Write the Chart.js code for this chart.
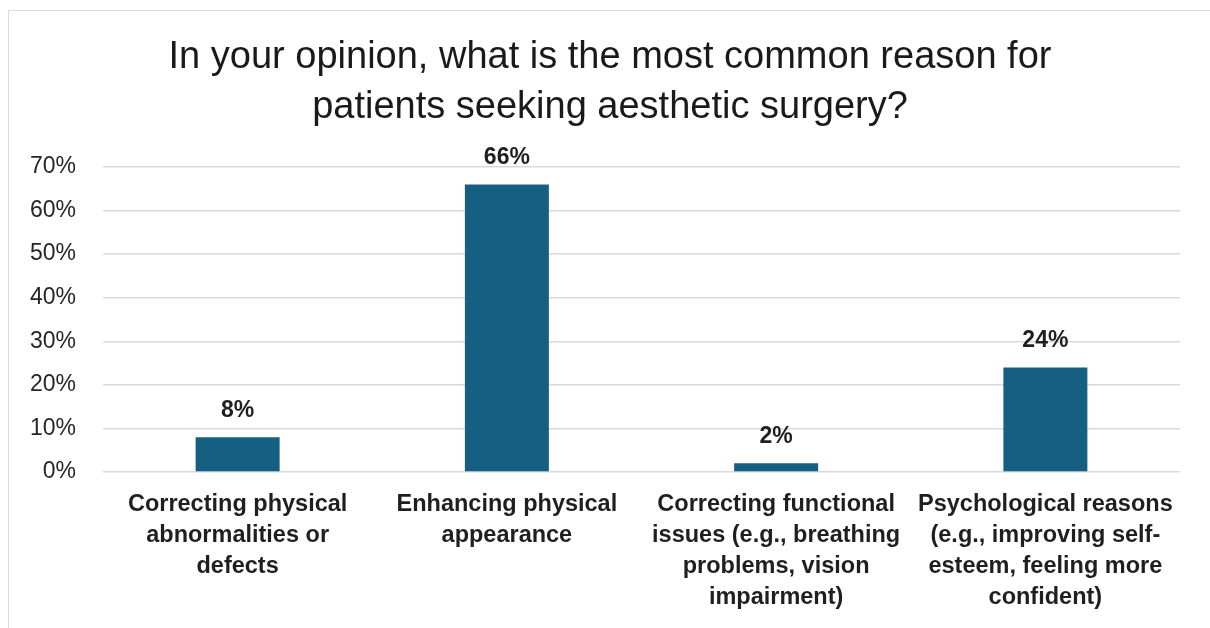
<!DOCTYPE html>
<html>
<head>
<meta charset="utf-8">
<script src="https://cdn.jsdelivr.net/npm/chart.js@4"></script>
<style>
  html, body { margin: 0; padding: 0; background: #fff; }
  #wrap { position: relative; width: 1210px; height: 628px; overflow: hidden; }
  #frame { position: absolute; left: 8px; top: 10px; width: 1300px; height: 700px;
           border-top: 1px solid #d9d9d9; border-left: 1px solid #d9d9d9; }
  canvas { position: absolute; left: 0; top: 0; }
</style>
</head>
<body>
<div id="wrap">
  <div id="frame"></div>
  <canvas id="myChart" width="1210" height="628"></canvas>
</div>
<script>
var categories = [
    ['Correcting physical', 'abnormalities or', 'defects'],
    ['Enhancing physical', 'appearance'],
    ['Correcting functional', 'issues (e.g., breathing', 'problems, vision', 'impairment)'],
    ['Psychological reasons', '(e.g., improving self-', 'esteem, feeling more', 'confident)']
];
var percentages = [8, 66, 2, 24];
var yTicks = [0, 10, 20, 30, 40, 50, 60, 70];
var titleLines = [
    'In your opinion, what is the most common reason for',
    'patients seeking aesthetic surgery?'
];

var fontFamily = '"Liberation Sans", Arial, sans-serif';

// value labels above each bar
var barLabels = {
    id: 'barLabels',
    afterDatasetsDraw: function (chart) {
        var ctx = chart.ctx;
        var meta = chart.getDatasetMeta(0);
        ctx.save();
        ctx.font = 'bold 23px ' + fontFamily;
        ctx.fillStyle = '#1f1f1f';
        ctx.textAlign = 'center';
        ctx.textBaseline = 'alphabetic';
        meta.data.forEach(function (bar, i) {
            ctx.fillText(percentages[i] + '%', bar.x, bar.y - 20);
        });
        ctx.restore();
    }
};

var ctx = document.getElementById('myChart').getContext('2d');
var myChart = new Chart(ctx, {
    type: 'bar',
    data: {
        labels: categories,
        datasets: [{
            data: percentages,
            backgroundColor: '#156082',
            categoryPercentage: 1,
            barPercentage: 0.312
        }]
    },
    plugins: [barLabels],
    options: {
        responsive: false,
        animation: false,
        layout: { padding: { left: 10, right: 0, top: 0, bottom: 0 } },
        plugins: {
            legend: { display: false },
            tooltip: { enabled: false },
            title: {
                display: true,
                text: titleLines,
                color: '#1a1a1a',
                font: { family: fontFamily, size: 38, weight: 'normal', lineHeight: '50px' },
                padding: { top: 33, bottom: 34 }
            }
        },
        scales: {
            x: {
                grid: { display: false, drawTicks: false },
                border: { display: false },
                ticks: {
                    color: '#1f1f1f',
                    padding: 17,
                    maxRotation: 0,
                    autoSkip: false,
                    font: { family: fontFamily, size: 23.5, weight: 'bold', lineHeight: '31px' }
                },
                afterFit: function (s) { s.height = 156; }
            },
            y: {
                min: yTicks[0],
                max: yTicks[yTicks.length - 1],
                grid: { color: '#d9d9d9', lineWidth: 1.5, drawTicks: false },
                border: { display: false },
                ticks: {
                    stepSize: yTicks[1] - yTicks[0],
                    color: '#262626',
                    padding: 27,
                    font: { family: fontFamily, size: 23 },
                    callback: function (v) { return v + '%'; }
                },
                afterFit: function (s) { s.width = 93; }
            },
            // empty right-hand spacer so the plot ends where the reference's does
            yRight: {
                position: 'right',
                grid: { display: false, drawTicks: false },
                border: { display: false },
                ticks: { display: false },
                afterFit: function (s) { s.width = 30; }
            }
        }
    }
});
</script>
</body>
</html>
